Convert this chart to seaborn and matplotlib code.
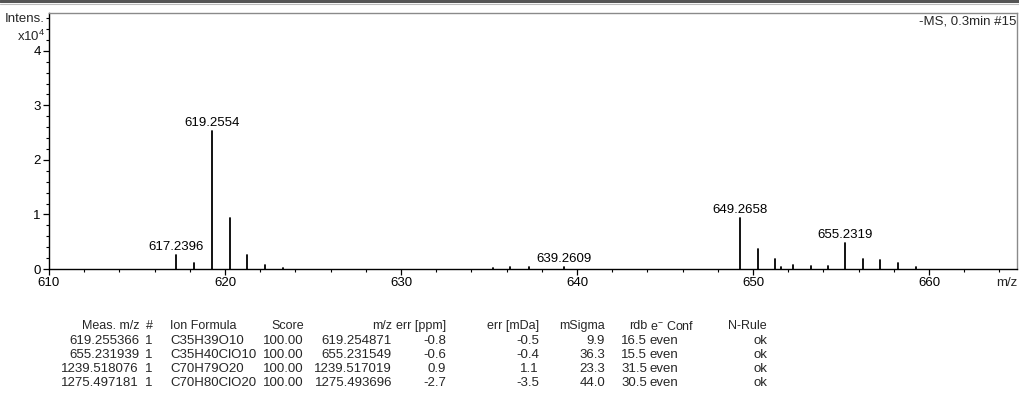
import numpy as np
import pandas as pd
import matplotlib
matplotlib.use("Agg")
import matplotlib.pyplot as plt
from matplotlib.ticker import MultipleLocator
from matplotlib.lines import Line2D
import seaborn as sns

# ---- spectrum: centroid peaks (m/z, intensity in units of 1e4) ----
peak_mz = [617.2396, 618.243, 619.2554, 620.259, 621.262, 622.265, 623.27,
           635.20, 636.20, 637.30, 639.2609,
           649.2658, 650.269, 651.272, 651.60, 652.27, 653.27, 654.27,
           655.2319, 656.235, 657.232, 658.235, 659.24]
peak_int = [0.26, 0.11, 2.53, 0.93, 0.26, 0.07, 0.02,
            0.02, 0.03, 0.03, 0.04,
            0.94, 0.36, 0.18, 0.03, 0.08, 0.05, 0.05,
            0.48, 0.19, 0.16, 0.11, 0.03]
labeled_mz = [617.2396, 619.2554, 639.2609, 649.2658, 655.2319]

# ---- formula assignment table ----
col_headers = ["Meas. m/z", "#", "Ion Formula", "Score", "m/z", "err [ppm]",
               "err [mDa]", "mSigma", "rdb", r"e$^{-}$ Conf", "N-Rule"]
meas_mz = ["619.255366", "655.231939", "1239.518076", "1275.497181"]
rank = ["1", "1", "1", "1"]
ion_formula = ["C35H39O10", "C35H40ClO10", "C70H79O20", "C70H80ClO20"]
score = ["100.00", "100.00", "100.00", "100.00"]
calc_mz = ["619.254871", "655.231549", "1239.517019", "1275.493696"]
err_ppm = ["-0.8", "-0.6", "0.9", "-2.7"]
err_mda = ["-0.5", "-0.4", "1.1", "-3.5"]
msigma = ["9.9", "36.3", "23.3", "44.0"]
rdb = ["16.5", "15.5", "31.5", "30.5"]
e_conf = ["even", "even", "even", "even"]
n_rule = ["ok", "ok", "ok", "ok"]

sns.set_theme(style="ticks")
plt.rcParams["font.family"] = ["Liberation Sans", "DejaVu Sans"]
plt.rcParams["mathtext.fontset"] = "custom"
plt.rcParams["mathtext.rm"] = "Liberation Sans"

W, H = 1019, 405
fig = plt.figure(figsize=(W / 100, H / 100), dpi=100)
fig.patch.set_facecolor("white")

def px(x0, y0, x1, y1):
    return [x0 / W, 1 - y1 / H, (x1 - x0) / W, (y1 - y0) / H]

ax = fig.add_axes(px(49, 12.7, 1017, 269))
ax.set_facecolor("white")

# stick spectrum: each peak is a two-point vertical segment
rows = []
for i, (m, h) in enumerate(zip(peak_mz, peak_int)):
    rows.append({"mz": m, "intens": 0.0, "peak": i})
    rows.append({"mz": m, "intens": h, "peak": i})
spec = pd.DataFrame(rows)
sns.lineplot(data=spec, x="mz", y="intens", units="peak", estimator=None,
             sort=False, color="black", linewidth=1.3, ax=ax, legend=False)

fs = 9.5
for m, h in zip(peak_mz, peak_int):
    if m in labeled_mz:
        ax.annotate(f"{m:.4f}", xy=(m, h), xytext=(0, 1.5),
                    textcoords="offset points", ha="center", va="bottom",
                    fontsize=fs, color="black")

ax.set_xlim(610, 665)
ax.set_ylim(0, 4.7)
ax.xaxis.set_major_locator(MultipleLocator(10))
ax.xaxis.set_minor_locator(MultipleLocator(2))
ax.yaxis.set_major_locator(MultipleLocator(1))
ax.yaxis.set_minor_locator(MultipleLocator(0.2))
ax.set_xticks([610, 620, 630, 640, 650, 660])
ax.set_yticks([0, 1, 2, 3, 4])
ax.tick_params(axis="both", which="major", direction="out", length=4.5,
               width=0.9, color="black", labelsize=fs, pad=1.5, labelcolor="black")
ax.tick_params(axis="both", which="minor", direction="out", length=2.5,
               width=0.8, color="black")
ax.set_xlabel("")
ax.set_ylabel("")
for side in ["left", "bottom"]:
    ax.spines[side].set_color("black")
    ax.spines[side].set_linewidth(1.0)
for side in ["top", "right"]:
    ax.spines[side].set_color("#8a8a8a")
    ax.spines[side].set_linewidth(1.0)
    ax.spines[side].set_visible(True)
ax.grid(False)

# axis annotations
fig.text(45 / W, 1 - 19.5 / H, "Intens.", ha="right", va="center", fontsize=fs)
fig.text(45 / W, 1 - 36 / H, r"x10$^{4}$", ha="right", va="center", fontsize=fs)
fig.text(1016 / W, 1 - 21 / H, "-MS, 0.3min #15", ha="right", va="center", fontsize=fs)
fig.text(1017 / W, 1 - 283 / H, "m/z", ha="right", va="center", fontsize=fs)

# frame line along the top of the image
fig.add_artist(Line2D([0, 1], [1 - 1 / H, 1 - 1 / H], transform=fig.transFigure,
                      color="#555555", linewidth=2.2))
fig.add_artist(Line2D([0, 1], [1 - 4 / H, 1 - 4 / H], transform=fig.transFigure,
                      color="#bbbbbb", linewidth=0.8))

# formula table below the spectrum
columns = [meas_mz, rank, ion_formula, score, calc_mz, err_ppm,
           err_mda, msigma, rdb, e_conf, n_rule]
col_x = [139, 149, 170, 304, 392, 446, 539, 605, 647, 650, 767]
col_ha = ["right", "center", "left", "right", "right", "right",
          "right", "right", "right", "left", "right"]
header_y = 326
row_y = [341, 355, 369, 383]
hfs = 9
tfs = 9.5
for hdr, vals, x, ha in zip(col_headers, columns, col_x, col_ha):
    fig.text(x / W, 1 - header_y / H, hdr, ha=ha, va="center", fontsize=hfs)
    for v, y in zip(vals, row_y):
        fig.text(x / W, 1 - y / H, v, ha=ha, va="center", fontsize=tfs)

fig.savefig("out.png", dpi=100, facecolor="white")
